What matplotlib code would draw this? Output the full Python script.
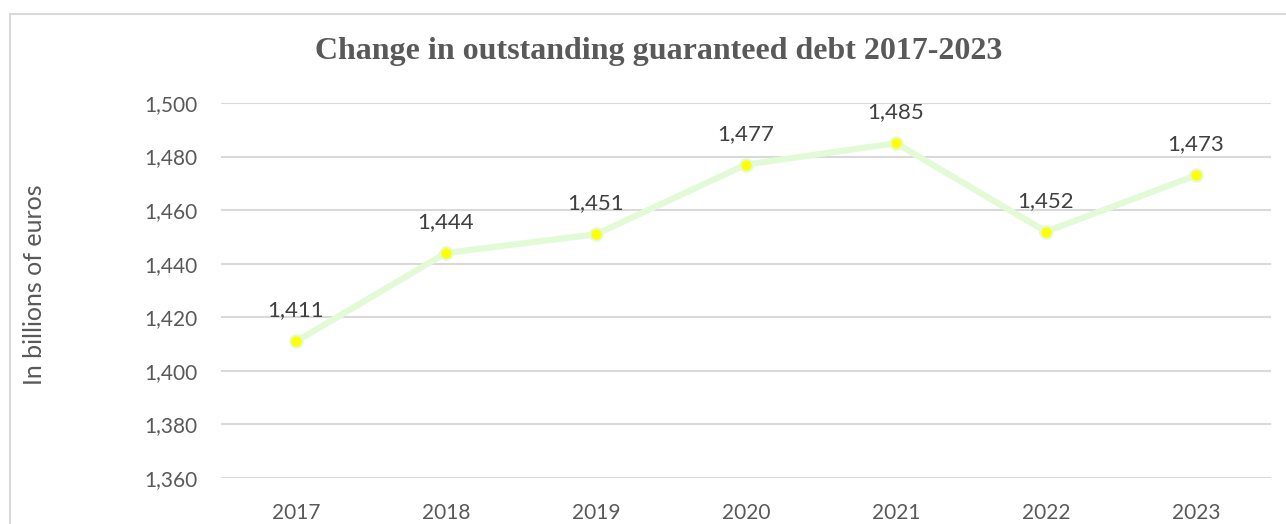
import matplotlib
matplotlib.use("Agg")
import matplotlib.pyplot as plt
from matplotlib.lines import Line2D
from matplotlib.ticker import FuncFormatter

years = ["2017", "2018", "2019", "2020", "2021", "2022", "2023"]
debt = [1411, 1444, 1451, 1477, 1485, 1452, 1473]
yticks = [1360, 1380, 1400, 1420, 1440, 1460, 1480, 1500]

W, H = 1286, 524
text_col = "#595959"
grid_col = "#d9d9d9"
sans = ["Lato", "DejaVu Sans"]

fig = plt.figure(figsize=(W / 100, H / 100), dpi=100)
ax = fig.add_axes([221 / W, 1 - 478 / H, 1050 / W, 375 / H])

x = list(range(len(years)))
ax.plot(x, debt, color="#e2fbd6", lw=4.5, solid_capstyle="round", zorder=3)
ax.plot(x, debt, ls="none", marker="o", ms=9, mfc="#ffff00", mec="#e2fbd6", mew=1.5, zorder=4)

for xi, v in zip(x, debt):
    ax.annotate(f"{v:,}", (xi, v), xytext=(0, 15), textcoords="offset points",
                ha="center", va="bottom", fontsize=16, color="#404040", family=sans)

ax.set_xlim(-0.5, len(years) - 0.5)
ax.set_ylim(1360, 1500)
ax.set_yticks(yticks)
ax.yaxis.set_major_formatter(FuncFormatter(lambda v, p: f"{int(v):,}"))
ax.set_xticks(x)
ax.set_xticklabels(years)
ax.grid(axis="y", color=grid_col, lw=1.5)
ax.set_axisbelow(True)
for s in ax.spines.values():
    s.set_visible(False)
ax.tick_params(length=0, labelsize=15, labelcolor=text_col, pad=17)
ax.tick_params(axis="x", pad=18)
for lab in ax.get_xticklabels() + ax.get_yticklabels():
    lab.set_family(sans)

fig.text(35 / W, 1 - 285 / H, "In billions of euros", rotation=90, ha="center", va="center",
         fontsize=18, color=text_col, family=sans)
fig.text(659 / W, 1 - 52 / H, "Change in outstanding guaranteed debt 2017-2023", ha="center", va="center",
         fontsize=23, fontweight="bold", color=text_col, family=["Liberation Serif", "DejaVu Serif"])

# chart border (cropped on right and bottom)
fig.add_artist(Line2D([10 / W, 1.01], [1 - 14 / H, 1 - 14 / H], color=grid_col, lw=1.5, transform=fig.transFigure))
fig.add_artist(Line2D([10 / W, 10 / W], [1 - 14 / H, -0.01], color=grid_col, lw=1.5, transform=fig.transFigure))

fig.savefig("out.png", dpi=100)
